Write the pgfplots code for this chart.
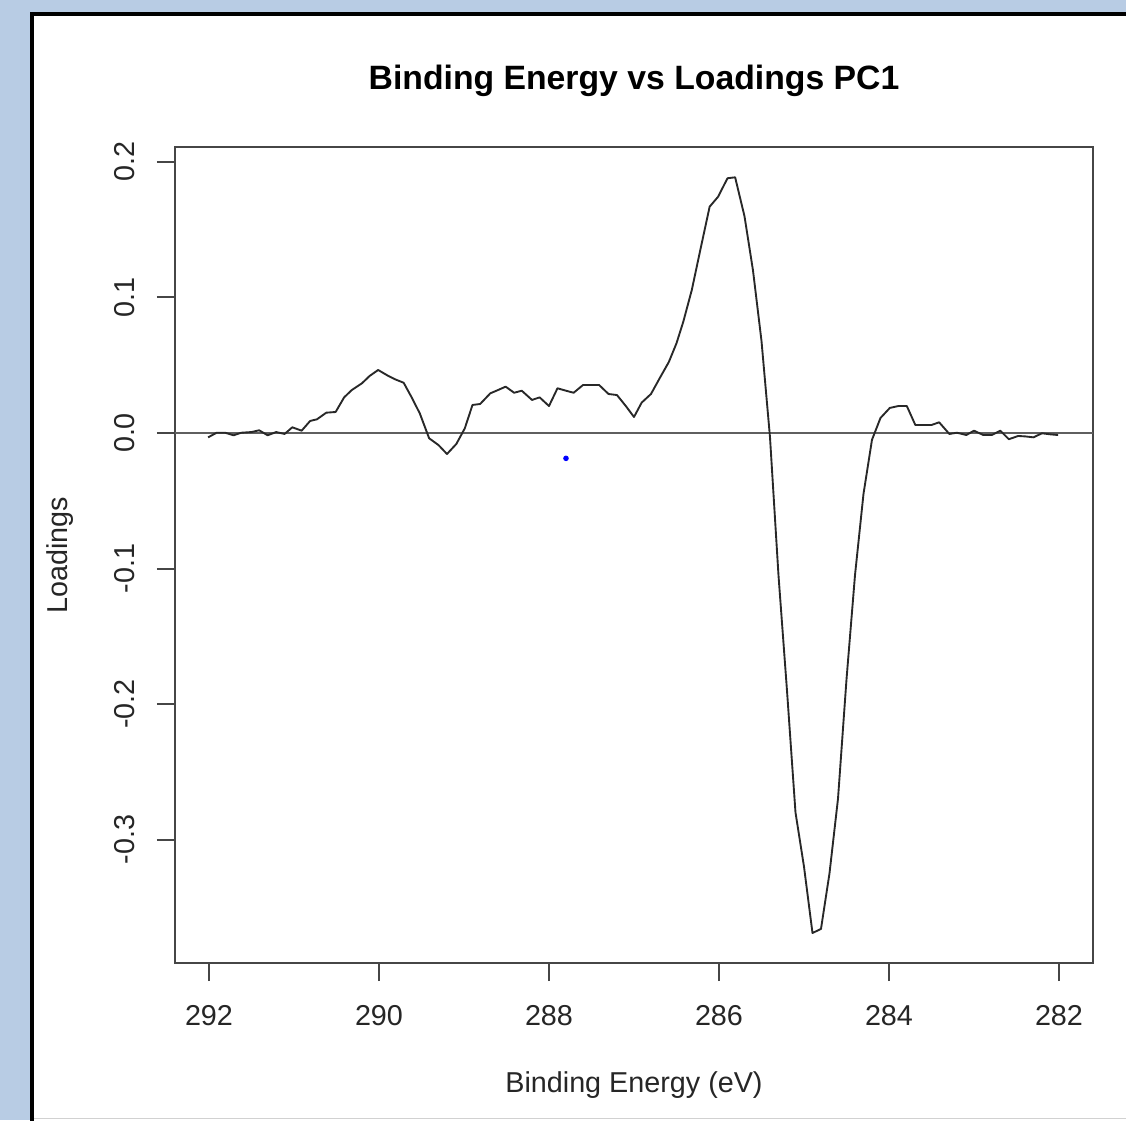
\documentclass[border=0pt]{standalone}
\usepackage{pgfplots}
\pgfplotsset{compat=1.18}
\usepackage{fontspec}
\setmainfont{Liberation Sans}
\definecolor{bgblue}{RGB}{184,204,228}
\definecolor{axgray}{RGB}{70,70,70}
\definecolor{curvegray}{RGB}{40,40,40}
\definecolor{zerogray}{RGB}{95,95,95}

\pgfplotstableread{
x y
292.01 -0.0032
291.91 0.0002
291.81 0.0002
291.71 -0.0017
291.62 0.0002
291.50 0.0007
291.41 0.0020
291.31 -0.0017
291.21 0.0007
291.11 -0.0007
291.02 0.0042
290.91 0.0017
290.81 0.0089
290.73 0.0101
290.62 0.0150
290.51 0.0155
290.41 0.0263
290.32 0.0317
290.20 0.0367
290.11 0.0421
290.01 0.0465
289.89 0.0421
289.81 0.0396
289.71 0.0371
289.62 0.0268
289.52 0.0145
289.41 -0.0039
289.30 -0.0089
289.20 -0.0155
289.09 -0.0081
288.99 0.0035
288.90 0.0207
288.81 0.0214
288.69 0.0293
288.60 0.0317
288.51 0.0342
288.41 0.0297
288.32 0.0312
288.20 0.0244
288.11 0.0263
288.00 0.0199
287.90 0.0330
287.80 0.0312
287.71 0.0297
287.60 0.0354
287.50 0.0354
287.41 0.0354
287.30 0.0288
287.20 0.0280
287.09 0.0194
287.00 0.0118
286.91 0.0224
286.80 0.0288
286.69 0.0413
286.59 0.0524
286.50 0.0662
286.42 0.0821
286.32 0.1055
286.22 0.1350
286.11 0.1670
286.01 0.1744
285.90 0.1880
285.81 0.1887
285.70 0.1600
285.60 0.1200
285.50 0.0680
285.40 -0.0030
285.30 -0.1050
285.20 -0.1900
285.10 -0.2800
285.00 -0.3200
284.90 -0.3690
284.80 -0.3660
284.70 -0.3250
284.60 -0.2700
284.50 -0.1820
284.40 -0.1050
284.30 -0.0450
284.20 -0.0050
284.10 0.0111
283.99 0.0185
283.89 0.0199
283.79 0.0199
283.69 0.0059
283.60 0.0059
283.50 0.0059
283.41 0.0079
283.29 -0.0007
283.20 0.0002
283.09 -0.0015
283.00 0.0017
282.89 -0.0015
282.79 -0.0015
282.69 0.0017
282.59 -0.0046
282.48 -0.0022
282.40 -0.0025
282.30 -0.0032
282.20 -0.0002
282.10 -0.0010
282.01 -0.0015
}\loadings

\begin{document}
\begin{tikzpicture}
\useasboundingbox (0,0) rectangle (450.4pt,448pt);
\clip (0,0) rectangle (450.4pt,448pt);
\fill[bgblue] (0,0) rectangle (450.4pt,448pt);
\filldraw[fill=white, draw=black, line width=1.6pt] (12.8pt,442.4pt) rectangle (470pt,-20pt);
\draw[black!18, line width=0.5pt] (13.6pt,0.6pt) -- (450.4pt,0.6pt);
\begin{axis}[
  at={(70pt,62.8pt)}, anchor=south west,
  scale only axis, width=367.2pt, height=326.4pt,
  x dir=reverse,
  xmin=281.6, xmax=292.4, ymin=-0.39114, ymax=0.21107,
  xtick={282,284,286,288,290,292},
  ytick={-0.3,-0.2,-0.1,0,0.1,0.2},
  yticklabels={-0.3,-0.2,-0.1,0.0,0.1,0.2},
  tick pos=left, tick align=outside, major tick length=7.2pt,
  axis line style={axgray, line width=0.8pt},
  tick style={axgray, line width=0.8pt},
  /pgf/number format/assume math mode=true,
  every tick label/.append style={font=\fontsize{11.5}{13}\selectfont, text=black!85},
  xticklabel style={anchor=base},
  xticklabel shift=17.6pt,
  yticklabel style={rotate=90, anchor=base},
  yticklabel shift=8.8pt,
  title={Binding Energy vs Loadings PC1},
  title style={font=\bfseries\fontsize{13.5}{16}\selectfont, at={(axis description cs:0.5,1.0515)}, anchor=base},
  xlabel={Binding Energy (eV)},
  xlabel style={font=\fontsize{11.5}{13}\selectfont, text=black!85, at={(axis description cs:0.5,-0.1581)}, anchor=base},
  ylabel={Loadings},
  ylabel style={font=\fontsize{11.5}{13}\selectfont, text=black!85, at={(axis description cs:-0.1171,0.5)}, anchor=base},
  clip=false,
]
\addplot[zerogray, line width=1.1pt] coordinates {(292.4,0) (281.6,0)};
\addplot[curvegray, line width=0.75pt, line join=round] table[x=x,y=y] {\loadings};
\addplot[only marks, mark=*, mark size=0.9pt, blue] coordinates {(287.8,-0.0187)};
\end{axis}
\end{tikzpicture}
\end{document}
